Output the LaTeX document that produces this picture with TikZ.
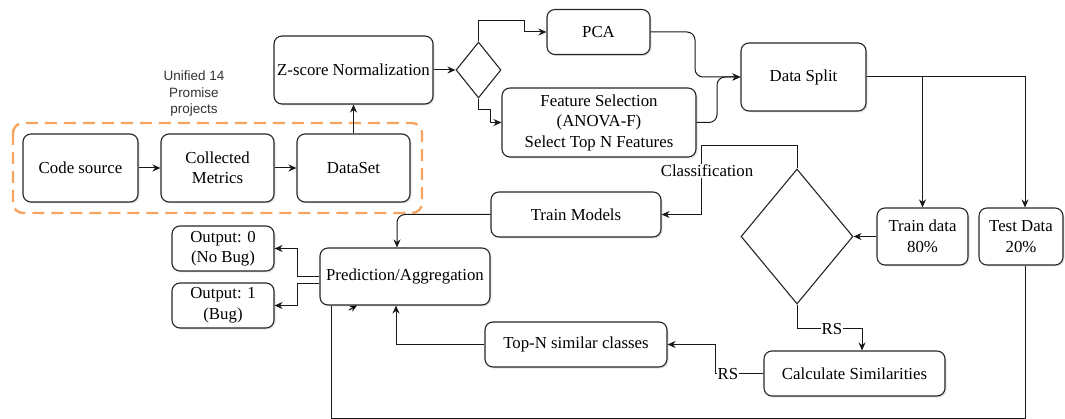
\documentclass[tikz,border=0pt]{standalone}
\usepackage{fontspec}
\setmainfont{Liberation Serif}
\newfontfamily\labelsans{Liberation Sans}
\usetikzlibrary{shapes.geometric,arrows.meta,shadows}
\definecolor{dashorange}{RGB}{247,164,96}
\begin{document}
\begin{tikzpicture}[x=1pt,y=-1pt,
  box/.style={draw=black!85, line width=1.1pt, rounded corners=8pt, fill=white,
    align=center, inner sep=0pt, font=\fontsize{16.8}{20.5}\selectfont,
    drop shadow={shadow xshift=1.5pt, shadow yshift=-1.5pt, opacity=0.22}},
  sz/.style 2 args={minimum width=#1pt, minimum height=#2pt},
  dia/.style={draw=black!85, line width=1.1pt, diamond, inner sep=0pt, fill=white},
  arr/.style={-{Stealth[length=8pt,width=7pt]}, line width=1pt, draw=black!90},
  conn/.style={line width=1pt, draw=black!90},
  lbl/.style={fill=white, inner sep=1pt, font=\fontsize{16.8}{20}\selectfont},
  group/.style={draw=dashorange, line width=2.4pt, dash pattern=on 12pt off 7pt, rounded corners=10pt},
]
\useasboundingbox (0,0) rectangle (1065,419);

% group frame
\draw[group] (13,123) rectangle (422,213);
\node[font=\labelsans\fontsize{13.5}{16.5}\selectfont, text=black!80, align=center] (uni) at (194,94) {Unified 14\\Promise\\projects};

% nodes
\node[box, sz={115}{68}] (cs) at (80.5,168) {Code source};
\node[box, sz={113}{68}] (cm) at (217.5,168) {Collected\\Metrics};
\node[box, sz={113}{68}] (dset) at (353.5,168) {DataSet};
\node[box, sz={159}{68}] (zn) at (353.5,70) {Z-score Normalization};
\node[dia, minimum width=45pt, minimum height=56pt] (d1) at (478.5,70) {};
\node[box, sz={103}{45}] (pca) at (598.5,32) {PCA};
\node[box, sz={194}{69}] (fs) at (599,122.5) {Feature Selection\\(ANOVA-F)\\Select Top N Features};
\node[box, sz={125}{68}] (split) at (803.5,77) {Data Split};
\node[box, sz={91}{57}] (train) at (922.5,236.5) {Train data\\80\%};
\node[box, sz={84}{57}] (test) at (1021,236.5) {Test Data\\20\%};
\node[dia, minimum width=112pt, minimum height=135pt] (d2) at (797,236.5) {};
\node[box, sz={170}{45}] (tm) at (576,214.5) {Train Models};
\node[box, sz={170}{57}] (pred) at (405,276.5) {Prediction/Aggregation};
\node[box, sz={102}{45}] (o0) at (223,248.5) {Output: 0\\(No Bug)};
\node[box, sz={102}{45}] (o1) at (223,305.5) {Output: 1\\(Bug)};
\node[box, sz={182}{45}] (topn) at (576,344.5) {Top-N similar classes};
\node[box, sz={181}{45}] (calc) at (854.5,373.5) {Calculate Similarities};

% helper coordinates
\coordinate (c1) at (524,21);
\coordinate (c2) at (490,110);
\coordinate (c3) at (695,77);
\coordinate (c4) at (717,77);
\coordinate (tx) at (1025,0);
\coordinate (c6) at (701,146);
\coordinate (c7) at (397,0);
\coordinate (k0) at (297,248.5);
\coordinate (k1) at (297,305.5);
\coordinate (c9) at (862,329);
\coordinate (c11) at (715,344.5);
\coordinate (c12) at (396,0);
\coordinate (c14) at (331,418);
\coordinate (t0) at (349,310);
\coordinate (t1) at (357,305.5);

% connectors
\draw[arr] (cs.east) -- (cm.west);
\draw[arr] (cm.east) -- (dset.west);
\draw[arr] (dset.north) -- (zn.south);
\draw[arr] (zn.east) -- (d1.west);
\draw[arr] (d1.north) |- (c1) |- (pca.west);
\draw[arr] (d1.south) |- (c2) |- (fs.west);
\draw[arr, rounded corners=8pt] (pca.east) -| (c3) -- (split.west);
\draw[arr, rounded corners=8pt] (fs.east) -| (c4) -- (split.west);
\draw[arr] (split.east) -| (train.north);
\draw[arr] (split.east) -| (test.north -| tx);
\draw[arr] (train.west) -- (d2.east);
\draw[arr] (d2.north) |- (c6) |- (tm.east);
\node[lbl] (cls) at (707,171) {Classification};
\draw[arr, rounded corners=8pt] (tm.west) -| (pred.north -| c7);
\draw[arr] (pred.west) -| (k0) -- (o0.east);
\draw[arr] ([yshift=-7pt]pred.west) -| (k1) -- (o1.east);
\draw[arr] (d2.south) |- (c9) -- (calc.north -| c9);
\node[lbl] (rs1) at (832,329) {RS};
\draw[arr] (calc.west) -| (c11) -- (topn.east);
\node[lbl] (rs2) at (728,374) {RS};
\draw[arr] (topn.west) -| (pred.south -| c12);
\draw[conn] (test.south -| tx) |- (c14) -- (pred.south -| c14);
\draw[-{Stealth[length=7pt,width=6pt]}, line width=1pt] (t0) -- (t1);
\end{tikzpicture}
\end{document}
